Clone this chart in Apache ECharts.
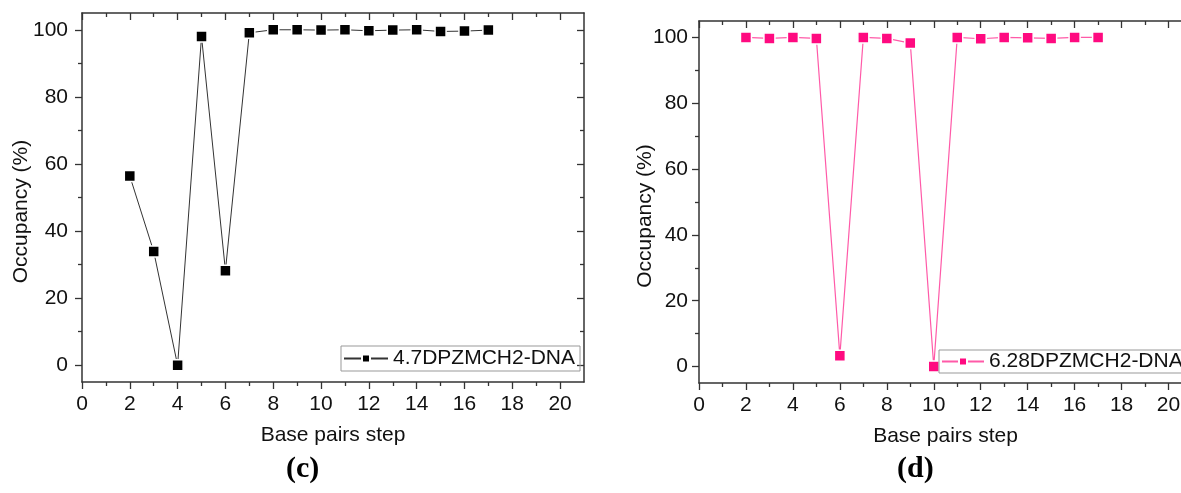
<!DOCTYPE html>
<html>
<head>
<meta charset="utf-8">
<script src="https://cdn.jsdelivr.net/npm/echarts@6/dist/echarts.min.js"></script>
<style>
html,body{margin:0;padding:0;background:#fff;}
#chart{width:1181px;height:493px;}
</style>
</head>
<body>
<div id="chart"></div>
<script>
// ---- data ----
const steps = [2, 3, 4, 5, 6, 7, 8, 9, 10, 11, 12, 13, 14, 15, 16, 17];
const occupancyC = [56.4, 33.9, 0, 98.0, 28.2, 99.1, 100, 100, 99.9, 100, 99.7, 99.9, 100, 99.5, 99.6, 99.9];
const occupancyD = [100, 99.7, 100, 99.7, 3.3, 100, 99.7, 98.3, 0, 100, 99.6, 100, 99.9, 99.7, 100, 100];
const seriesNameC = '4.7DPZMCH2-DNA';
const seriesNameD = '6.28DPZMCH2-DNA';
const xMajorTicks = [0, 2, 4, 6, 8, 10, 12, 14, 16, 18, 20];
const xMinorTicks = [1, 3, 5, 7, 9, 11, 13, 15, 17, 19];
const yMajorTicks = [0, 20, 40, 60, 80, 100];
const yMinorTicks = [10, 30, 50, 70, 90];
const xName = 'Base pairs step';
const yName = 'Occupancy (%)';
const captions = ['(c)', '(d)'];

// ---- styling ----
const FONT = "'Liberation Sans', Arial, sans-serif";
const FS = 21;
const AX = '#333';
const X_MIN = 0, X_MAX = 21, Y_MIN = -5, Y_MAX = 105;

function axesFor(gi, yNameGap, yLabelMargin) {
  const xs = [], ys = [];
  const base = {gridIndex: gi, type: 'value', min: X_MIN, max: X_MAX, splitLine: {show: false}};
  xs.push(Object.assign({}, base, {
    position: 'bottom',
    axisLine: {show: true, onZero: false, lineStyle: {color: AX, width: 1.5}},
    axisTick: {show: true, inside: false, length: 7, customValues: xMajorTicks, lineStyle: {color: AX, width: 1.3}},
    axisLabel: {show: true, customValues: xMajorTicks, margin: 12, color: '#111', fontSize: FS, fontFamily: FONT},
    name: xName, nameLocation: 'middle', nameGap: 43, nameMoveOverlap: false,
    nameTextStyle: {color: '#111', fontSize: FS, fontFamily: FONT}
  }));
  xs.push(Object.assign({}, base, {
    position: 'bottom',
    axisLine: {show: false, onZero: false},
    axisTick: {show: true, inside: false, length: 4, customValues: xMinorTicks, lineStyle: {color: AX, width: 1.3}},
    axisLabel: {show: false}
  }));
  xs.push(Object.assign({}, base, {
    position: 'top',
    axisLine: {show: true, onZero: false, lineStyle: {color: AX, width: 1.5}},
    axisTick: {show: true, inside: true, length: 7, customValues: xMajorTicks, lineStyle: {color: AX, width: 1.3}},
    axisLabel: {show: false}
  }));
  xs.push(Object.assign({}, base, {
    position: 'top',
    axisLine: {show: false, onZero: false},
    axisTick: {show: true, inside: true, length: 4, customValues: xMinorTicks, lineStyle: {color: AX, width: 1.3}},
    axisLabel: {show: false}
  }));
  const ybase = {gridIndex: gi, type: 'value', min: Y_MIN, max: Y_MAX, splitLine: {show: false}};
  ys.push(Object.assign({}, ybase, {
    position: 'left',
    axisLine: {show: true, onZero: false, lineStyle: {color: AX, width: 1.5}},
    axisTick: {show: true, inside: false, length: 7, customValues: yMajorTicks, lineStyle: {color: AX, width: 1.3}},
    axisLabel: {show: true, customValues: yMajorTicks, margin: yLabelMargin, color: '#111', fontSize: FS, fontFamily: FONT},
    name: yName, nameLocation: 'middle', nameGap: yNameGap, nameRotate: 90, nameMoveOverlap: false,
    nameTextStyle: {color: '#111', fontSize: FS, fontFamily: FONT, padding: [0, 28, 0, 0]}
  }));
  ys.push(Object.assign({}, ybase, {
    position: 'left',
    axisLine: {show: false, onZero: false},
    axisTick: {show: true, inside: false, length: 4, customValues: yMinorTicks, lineStyle: {color: AX, width: 1.3}},
    axisLabel: {show: false}
  }));
  ys.push(Object.assign({}, ybase, {
    position: 'right',
    axisLine: {show: true, onZero: false, lineStyle: {color: AX, width: 1.5}},
    axisTick: {show: true, inside: true, length: 7, customValues: yMajorTicks, lineStyle: {color: AX, width: 1.3}},
    axisLabel: {show: false}
  }));
  ys.push(Object.assign({}, ybase, {
    position: 'right',
    axisLine: {show: false, onZero: false},
    axisTick: {show: true, inside: true, length: 4, customValues: yMinorTicks, lineStyle: {color: AX, width: 1.3}},
    axisLabel: {show: false}
  }));
  return {xs, ys};
}

const a0 = axesFor(0, 50, 14);
const a1 = axesFor(1, 43, 11);

const chart = echarts.init(document.getElementById('chart'), null, {renderer: 'canvas'});
chart.setOption({
  animation: false,
  backgroundColor: '#fff',
  grid: [
    {left: 82, top: 13, width: 502, height: 369, containLabel: false, outerBoundsMode: 'none'},
    {left: 699, top: 21, width: 493, height: 362, containLabel: false, outerBoundsMode: 'none'}
  ],
  xAxis: a0.xs.concat(a1.xs),
  yAxis: a0.ys.concat(a1.ys),
  legend: [
    {
      data: [seriesNameC], left: 341, top: 346,
      borderColor: '#999', borderWidth: 1, padding: [2, 5, 2, 2],
      itemWidth: 44, itemHeight: 10, itemGap: 4,
      textStyle: {color: '#111', fontSize: FS, fontFamily: FONT}
    },
    {
      data: [seriesNameD], left: 939, top: 350,
      borderColor: '#999', borderWidth: 1, padding: [1, 5, 1, 2],
      itemWidth: 42, itemHeight: 10, itemGap: 4,
      textStyle: {color: '#111', fontSize: FS, fontFamily: FONT}
    }
  ],
  series: [
    {
      name: seriesNameC, type: 'line', xAxisIndex: 0, yAxisIndex: 0,
      data: steps.map((s, i) => [s, occupancyC[i]]),
      symbol: 'rect', symbolSize: 11, clip: false,
      lineStyle: {color: '#333', width: 1},
      itemStyle: {color: '#000', borderColor: '#fff', borderWidth: 1.5}
    },
    {
      name: seriesNameD, type: 'line', xAxisIndex: 4, yAxisIndex: 4,
      data: steps.map((s, i) => [s, occupancyD[i]]),
      symbol: 'rect', symbolSize: 11, clip: false,
      lineStyle: {color: '#ff5aa8', width: 1.2},
      itemStyle: {color: '#ff0a80', borderColor: '#fff', borderWidth: 1.5}
    }
  ],
  graphic: [
    {type: 'text', left: 286, top: 454, style: {text: captions[0], fill: '#000', font: "bold 30px 'Liberation Serif', 'Times New Roman', serif"}},
    {type: 'text', left: 897, top: 454, style: {text: captions[1], fill: '#000', font: "bold 30px 'Liberation Serif', 'Times New Roman', serif"}}
  ]
});
</script>
</body>
</html>
